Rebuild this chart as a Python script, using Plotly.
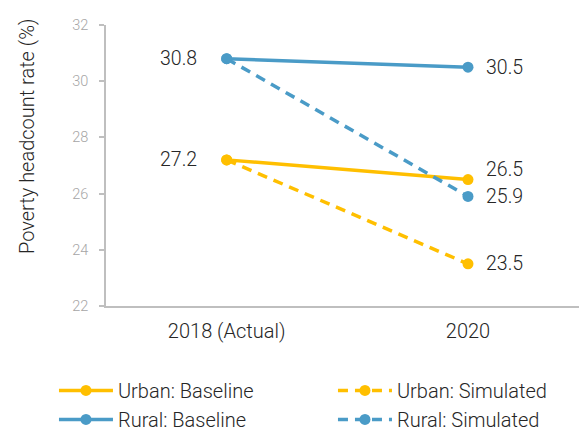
import plotly.graph_objects as go

categories = ["2018 (Actual)", "2020"]
urban_baseline = [27.2, 26.5]
urban_simulated = [27.2, 23.5]
rural_baseline = [30.8, 30.5]
rural_simulated = [30.8, 25.9]
y_ticks = [22, 24, 26, 28, 30, 32]

YELLOW = "#FFBF00"
BLUE = "#4A9BC7"
FONT = "Roboto, sans-serif"
TXT = "#262626"

xs = list(range(len(categories)))

fig = go.Figure()
series = [
    ("Urban: Baseline", urban_baseline, YELLOW, "solid"),
    ("Urban: Simulated", urban_simulated, YELLOW, "10px,7px"),
    ("Rural: Baseline", rural_baseline, BLUE, "solid"),
    ("Rural: Simulated", rural_simulated, BLUE, "10px,7px"),
]
for name, vals, col, dash in series:
    fig.add_trace(go.Scatter(
        x=xs, y=vals, name=name, mode="lines+markers",
        line=dict(color=col, width=3.5, dash=dash),
        marker=dict(color=col, size=11),
    ))

# data labels
labels = [
    (0, urban_baseline[0], "left", 0),
    (0, rural_baseline[0], "left", 0),
    (1, urban_baseline[1], "right", 10),
    (1, urban_simulated[1], "right", 0),
    (1, rural_baseline[1], "right", 0),
    (1, rural_simulated[1], "right", 0),
]
for xi, v, side, ys in labels:
    fig.add_annotation(
        x=xi, y=v, text=f"{v:.1f}", showarrow=False,
        xanchor="right" if side == "left" else "left",
        xshift=-28 if side == "left" else 16, yshift=ys,
        font=dict(family=FONT, size=19.5, color=TXT, weight=300),
    )

# y-axis title (placed like the reference, above the axis centre)
fig.add_annotation(
    text="Poverty headcount rate (%)", xref="paper", yref="paper",
    x=-0.167, y=0.605, textangle=-90, showarrow=False,
    xanchor="center", yanchor="middle",
    font=dict(family=FONT, size=20, color=TXT, weight=300),
)

fig.update_layout(
    width=579, height=430,
    margin=dict(l=106, r=0, t=25, b=124, autoexpand=False),
    plot_bgcolor="white", paper_bgcolor="white",
    font=dict(family=FONT, color=TXT, weight=300),
    showlegend=True,
    legend=dict(
        orientation="h", x=-0.110, xanchor="left", y=-0.231, yanchor="top",
        entrywidth=210, entrywidthmode="pixels", itemwidth=54,
        font=dict(family=FONT, size=20, color=TXT, weight=300),
        bgcolor="rgba(0,0,0,0)",
    ),
    xaxis=dict(
        range=[-0.5, 1.46], tickmode="array", tickvals=xs, ticktext=categories,
        showgrid=False, zeroline=False, showline=True, linecolor="#BFBFBF", linewidth=1.5,
        ticks="", ticklabelstandoff=6,
        tickfont=dict(family=FONT, size=20, color=TXT, weight=300),
    ),
    yaxis=dict(
        range=[22, 32], tickvals=y_ticks, showgrid=False, zeroline=False,
        showline=True, linecolor="#BFBFBF", linewidth=1.5,
        ticks="outside", ticklen=5, tickcolor="#BFBFBF", tickwidth=1.5,
        ticklabelstandoff=8,
        tickfont=dict(family=FONT, size=14.5, color="#A6A6A6", weight=300),
    ),
)

fig.write_html("out.html", config={"displayModeBar": False},
               post_script="document.body.style.margin='0';")
